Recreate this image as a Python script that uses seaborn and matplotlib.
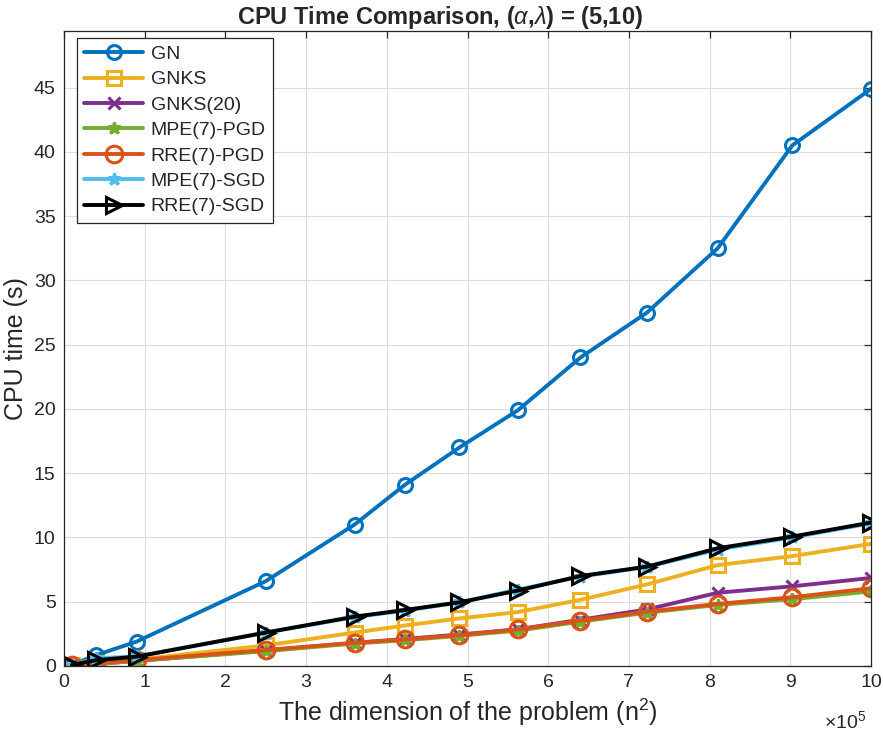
import numpy as np
import pandas as pd
import matplotlib
matplotlib.use("Agg")
import matplotlib.pyplot as plt
from matplotlib.ticker import FuncFormatter, MultipleLocator
import seaborn as sns

# problem dimension n^2 (n = 100 ... 1000)
dims = [10000, 40000, 90000, 250000, 360000, 422500, 490000,
        562500, 640000, 722500, 810000, 902500, 1000000]

# CPU times (s)
gn = [0.1, 0.85, 1.9, 6.6, 11.0, 14.1, 17.0, 19.9, 24.0, 27.5, 32.5, 40.5, 44.9]
gnks = [0.05, 0.2, 0.5, 1.6, 2.6, 3.15, 3.7, 4.2, 5.15, 6.35, 7.85, 8.55, 9.5]
gnks20 = [0.05, 0.15, 0.4, 1.2, 1.8, 2.1, 2.45, 2.85, 3.6, 4.4, 5.7, 6.2, 6.85]
mpe_pgd = [0.05, 0.15, 0.4, 1.15, 1.75, 2.0, 2.35, 2.75, 3.45, 4.15, 4.75, 5.2, 5.8]
rre_pgd = [0.05, 0.2, 0.45, 1.25, 1.8, 2.07, 2.4, 2.85, 3.53, 4.23, 4.83, 5.35, 6.05]
mpe_sgd = [0.1, 0.6, 0.75, 2.6, 3.8, 4.3, 4.95, 5.95, 6.95, 7.7, 9.05, 10.0, 11.1]
rre_sgd = [0.1, 0.45, 0.73, 2.6, 3.84, 4.36, 4.95, 5.87, 7.0, 7.73, 9.16, 10.07, 11.16]

labels = ['GN', 'GNKS', 'GNKS(20)', 'MPE(7)-PGD', 'RRE(7)-PGD', 'MPE(7)-SGD', 'RRE(7)-SGD']
series = [gn, gnks, gnks20, mpe_pgd, rre_pgd, mpe_sgd, rre_sgd]
colors = ['#0072BD', '#EDB120', '#7E2F8E', '#77AC30', '#D95319', '#4DBEEE', '#000000']
markers = ['o', 's', 'x', '*', 'o', '*', '>']
msizes = [10, 10, 8, 9, 12, 9, 11]

sns.set_theme(style='whitegrid')
plt.rcParams['font.family'] = ['Liberation Sans', 'DejaVu Sans']
plt.rcParams['mathtext.fontset'] = 'custom'
plt.rcParams['mathtext.rm'] = 'Liberation Sans'
plt.rcParams['mathtext.it'] = 'Liberation Sans:italic'
plt.rcParams['mathtext.bf'] = 'Liberation Sans:bold'

fig = plt.figure(figsize=(8.83, 7.38), dpi=100)
ax = fig.add_axes([64/883, 1-666/738, (871-64)/883, (666-31)/738])
ax.set_facecolor('white')

for lab, ys, c, m, ms in zip(labels, series, colors, markers, msizes):
    df = pd.DataFrame({'x': dims, 'y': ys})
    sns.lineplot(data=df, x='x', y='y', ax=ax, color=c, marker=m, label=lab,
                 linewidth=2.8, markersize=ms, markerfacecolor='none',
                 markeredgecolor=c, markeredgewidth=2.2)

ax.set_xlim(0, 1000000)
ax.set_ylim(0, 49.4)
ax.xaxis.set_major_locator(MultipleLocator(100000))
ax.yaxis.set_major_locator(MultipleLocator(5))
ax.xaxis.set_major_formatter(FuncFormatter(lambda v, p: f'{v/1e5:g}'))

ax.grid(True, color='#dcdcdc', linewidth=0.8)
for s in ax.spines.values():
    s.set_color('#262626')
    s.set_linewidth(0.9)
ax.tick_params(direction='in', top=True, right=True, length=5, width=0.9,
               color='#262626', labelsize=14, labelcolor='#262626', pad=6)

ax.set_title(r'CPU Time Comparison, ($\alpha$,$\lambda$) = (5,10)',
             fontsize=17, fontweight='bold', pad=5, x=(440-64)/807)
ax.set_xlabel('The dimension of the problem (n$^2$)', fontsize=18, color='#262626', labelpad=4)
ax.set_ylabel('CPU time (s)', fontsize=18, color='#262626', labelpad=4)

fig.text(824/883, 1-721/738, r'$\times10^{5}$', fontsize=14, color='#262626',
         ha='left', va='center')

leg = ax.legend(loc='upper left', bbox_to_anchor=(13/807, 1-7/635), fontsize=14,
                frameon=True, fancybox=False, framealpha=1, edgecolor='#262626',
                handlelength=3.0, handletextpad=0.4, borderaxespad=0,
                borderpad=0.38, labelspacing=0.4)
leg.get_frame().set_linewidth(0.9)

fig.savefig('out.png', dpi=100)
